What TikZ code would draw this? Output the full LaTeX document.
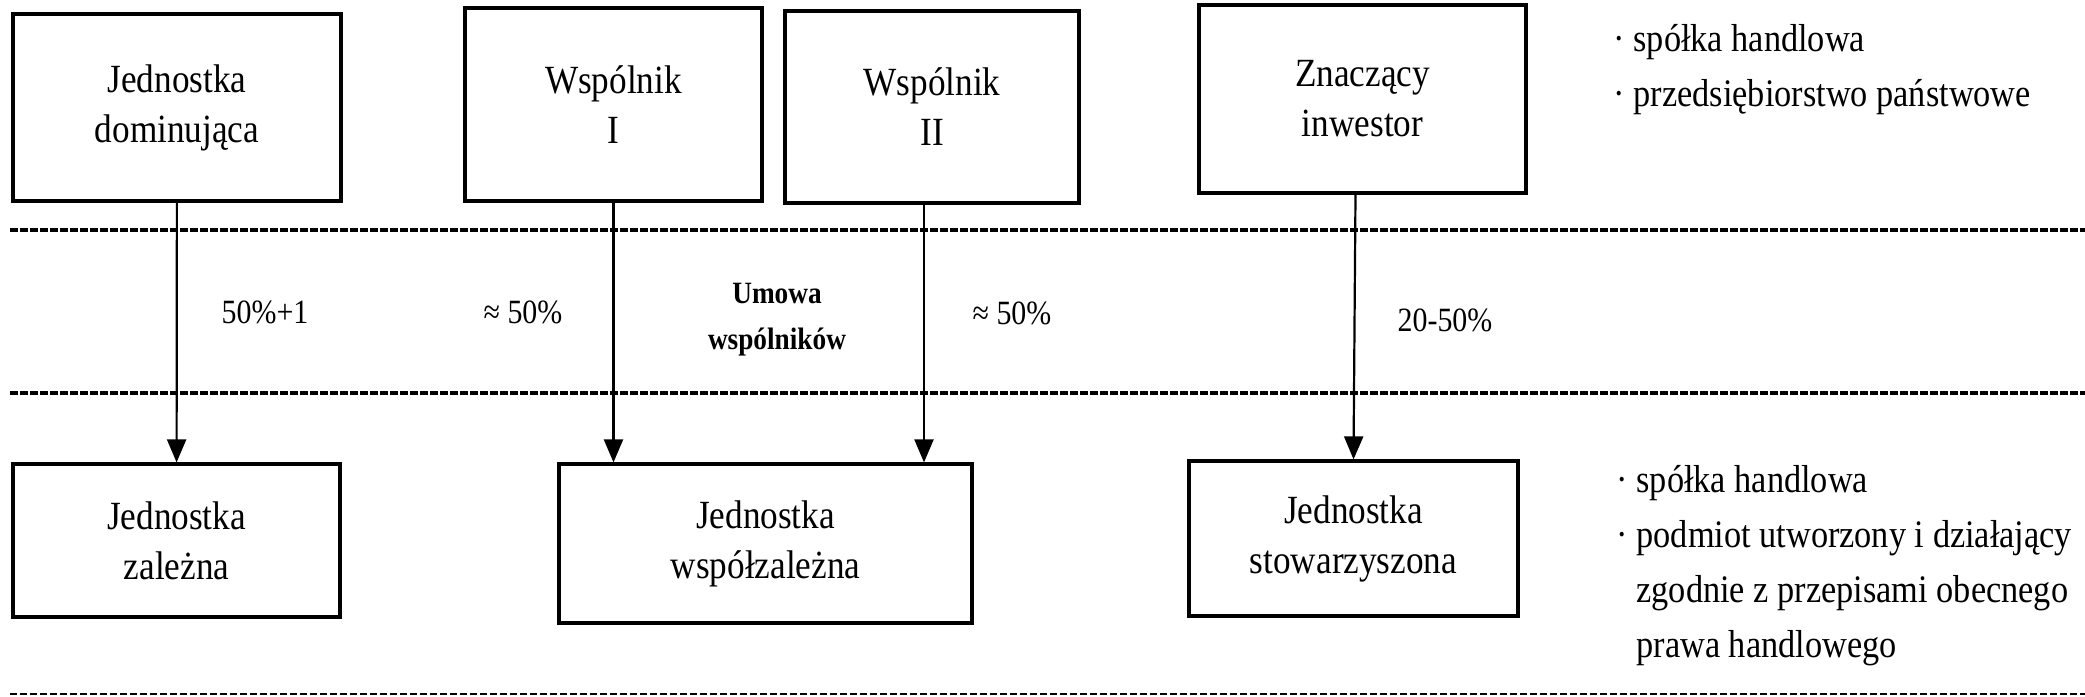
\documentclass[tikz,border=0pt]{standalone}
\usepackage{fontspec}
\setmainfont{Liberation Serif}[FakeStretch=0.88]
\usetikzlibrary{arrows.meta}

\begin{document}
\begin{tikzpicture}[x=1pt,y=-1pt,
    box/.style={draw,line width=3.2pt,align=center,inner sep=0pt,font=\fontsize{40}{50}\selectfont},
    pct/.style={font=\fontsize{34}{40}\selectfont},
    deal/.style={align=center,font=\bfseries\fontsize{31}{46}\selectfont},
    note/.style={anchor=west,align=left,font=\fontsize{39}{55}\selectfont},
    sepline/.style={line width=3.6pt,dash pattern=on 8pt off 2pt},
    thinsep/.style={line width=1.6pt,dash pattern=on 7pt off 3pt},
    arr/.style={line width=2.2pt,-{Triangle[length=23pt,width=19pt]}}]
  \useasboundingbox (0,0) rectangle (2085,696);
  % Owners (upper row)
  \node[box,minimum width=328pt,minimum height=187pt] (dom) at (177,107.5) {Jednostka\\dominująca};
  \node[box,minimum width=297pt,minimum height=193pt] (wsp1) at (613.5,104.5) {Wspólnik\\I};
  \node[box,minimum width=294pt,minimum height=192pt] (wsp2) at (932,107) {Wspólnik\\II};
  \node[box,minimum width=327pt,minimum height=188pt] (znacz) at (1362.5,99) {Znaczący\\inwestor};
  % Entities (lower row)
  \node[box,minimum width=327pt,minimum height=153pt] (zal) at (176.5,540.5) {Jednostka\\zależna};
  \node[box,minimum width=413pt,minimum height=159pt] (wspz) at (765.5,543.5) {Jednostka\\współzależna};
  \node[box,minimum width=329pt,minimum height=155pt] (stow) at (1353.5,538.5) {Jednostka\\stowarzyszona};
  % Separators
  \draw[sepline] (10,230) -- (2085,230);
  \draw[sepline] (10,393) -- (2085,393);
  \draw[thinsep] (10,694) -- (2085,694);
  % Shares
  \draw[arr] (dom) -- (zal);
  \draw[arr] (wsp1.south) -- (wsp1.south |- wspz.north);
  \draw[arr] ([xshift=-8pt]wsp2.south) -- ([xshift=-8pt]wsp2.south |- wspz.north);
  \draw[arr] ([xshift=-7pt]znacz.south) -- (stow.north);
  \node[pct] (share1) at (265,312) {50\%+1};
  \node[pct] (share2) at (523,312) {≈ 50\%};
  \node[deal] (umowa) at (777,320) {Umowa\\wspólników};
  \node[pct] (share3) at (1012,313) {≈ 50\%};
  \node[pct] (share4) at (1445,320) {20-50\%};
  % Legal forms
  \node[note] (formtop) at (1610,70) {· spółka handlowa\\· przedsiębiorstwo państwowe};
  \node[note] (formbot) at (1613,566) {· spółka handlowa\\· podmiot utworzony i działający\\\hphantom{·\ }zgodnie z przepisami obecnego\\\hphantom{·\ }prawa handlowego};
\end{tikzpicture}
\end{document}
